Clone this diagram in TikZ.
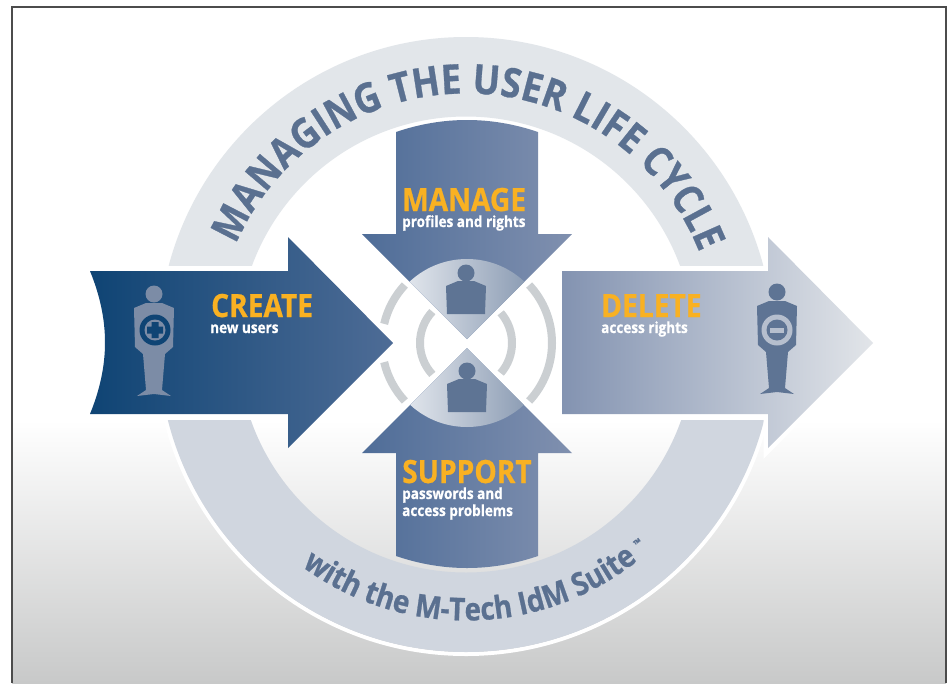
\documentclass[tikz,border=0pt]{standalone}
\usepackage{fontspec}
\setmainfont[FakeStretch=0.88,BoldFeatures={FakeBold=0.7}]{Open Sans}
\usetikzlibrary{decorations.text}
\definecolor{ringTop}{HTML}{E2E6EA}
\definecolor{ringBot}{HTML}{D0D6DF}
\definecolor{slate}{HTML}{5A7090}
\definecolor{navy}{HTML}{0F4474}
\definecolor{amber}{HTML}{F9B122}
\definecolor{arcGrey}{HTML}{CBCFD2}
\definecolor{figGrey}{HTML}{7C8CA6}
\definecolor{figDark}{HTML}{5E7494}
\definecolor{emblemLight}{HTML}{B6BFCE}
\definecolor{createTip}{HTML}{4E6C96}
\definecolor{vertLeft}{HTML}{4F6D98}
\definecolor{vertRight}{HTML}{8090AF}
\definecolor{deleteLeft}{HTML}{8393B1}
\definecolor{deleteTip}{HTML}{E2E5E9}
\definecolor{discLight}{HTML}{F3F5F8}
\definecolor{discMid}{HTML}{8593A6}
\definecolor{discDark}{HTML}{7A8DA8}
\definecolor{pageBottom}{HTML}{C8C9C9}
\tikzset{
  x=1pt, y=-1pt,
  headWord/.style={text=amber, font=\bfseries\fontsize{32}{32}\selectfont, anchor=base west, inner sep=0pt},
  subWord/.style={text=white, font=\bfseries\fontsize{15.4}{17}\selectfont, anchor=base west, inner sep=0pt, align=left},
  arcLine/.style={draw=arcGrey, line width=8pt},
  ringText/.style={decorate, decoration={text along path, text align={fit to path}, text={#1}}}
}
% figure with its head centre at #1
\newcommand{\fullFigure}[2]{%
  \fill[#2, shift={(#1)}] (0,0) circle (8.5)
    (-8,9) -- (8,9) -- (20,14) -- (19,53) -- (11,60) -- (8,96) -- (17,102) -- (0,100) -- (-17,102) -- (-8,96)
    -- (-11,60) -- (-19,53) -- (-20,14) -- cycle;
}
\newcommand{\bustFigure}[2]{%
  \fill[#2, shift={(#1)}] (0,0) circle (8.5)
    (-8,8) -- (8,8) -- (20,13) -- (19,41) -- (-19,41) -- (-20,13) -- cycle;
}
\begin{document}
\begin{tikzpicture}
  \useasboundingbox (0,0) rectangle (950,683);
  % page
  \fill[white] (0,0) rectangle (950,683);
  \shade[top color=white, bottom color=pageBottom] (12,420) rectangle (946,683);
  \draw[black!70, line width=1.5pt] (12,683) -- (12,7) -- (946,7) -- (946,683);
  % ring
  \coordinate (hub) at (466,344.5);
  \begin{scope}
    \clip (0,0) rectangle (950,265);
    \fill[ringTop, even odd rule] (hub) circle (307.5) (hub) circle (228);
  \end{scope}
  \begin{scope}
    \clip (0,420) rectangle (950,683);
    \draw[white, line width=4pt] (hub) circle (309.5);
    \fill[ringBot, even odd rule] (hub) circle (307.5) (hub) circle (228);
  \end{scope}
  \path[ringText={|\bfseries\fontsize{41}{41}\selectfont\color{slate}|MANAGING THE USER LIFE CYCLE}]
    (hub) ++(-156.5:251) arc[start angle=-156.5, end angle=-21.5, radius=251];
  \path[ringText={|\bfseries\fontsize{31.5}{31.5}\selectfont\color{slate}|with the M-Tech IdM Suite}]
    (hub) ++(126.5:276) arc[start angle=126.5, end angle=52, radius=276];
  \node[text=slate, font=\bfseries\fontsize{11}{11}\selectfont, rotate=37, inner sep=0pt] (trademark) at (638,543) {™};
  % side arrows
  \shade[left color=navy, right color=createTip]
    (90,271) -- (288,271) -- (288,237) -- (393,343) -- (288,448) -- (288,414) -- (90,414)
    .. controls (110,365) and (110,320) .. (90,271) -- cycle;
  \draw[white, line width=9pt, miter limit=10]
    (562,271) -- (768,271) -- (768,237) -- (873,343) -- (768,448) -- (768,414) -- (562,414) -- cycle;
  \shade[left color=deleteLeft, right color=deleteTip]
    (562,271) -- (768,271) -- (768,237) -- (873,343) -- (768,448) -- (768,414) -- (562,414) -- cycle;
  % centre arcs
  \coordinate (cross) at (467,343);
  \draw[arcLine] (cross) ++(-43:85) arc[start angle=-43, end angle=43, radius=85];
  \draw[arcLine] (cross) ++(-137:85) arc[start angle=-137, end angle=-167, radius=85];
  \draw[arcLine] (cross) ++(137:85) arc[start angle=137, end angle=167, radius=85];
  \draw[arcLine] (466,343) ++(-41:46) arc[start angle=-41, end angle=41, radius=46];
  \draw[arcLine] (466,343) ++(137:46) arc[start angle=137, end angle=223, radius=46];
  % top and bottom arrows
  \shade[left color=vertLeft, right color=vertRight]
    (396,132) .. controls (443,116) and (491,116) .. (538,132) -- (538,234) -- (572,234)
    -- (467,339) -- (362,234) -- (396,234) -- cycle;
  \shade[left color=vertLeft, right color=vertRight]
    (396,556) .. controls (443,572) and (491,572) .. (538,556) -- (538,453) -- (572,453)
    -- (467,348) -- (362,453) -- (396,453) -- cycle;
  \begin{scope}
    \clip (362,234) -- (572,234) -- (467,339) -- cycle;
    \shade[left color=discLight, middle color=discMid, right color=discDark] (cross) circle (84);
  \end{scope}
  \begin{scope}
    \clip (362,453) -- (572,453) -- (467,348) -- cycle;
    \shade[left color=discLight, middle color=discMid, right color=discDark] (cross) circle (84);
  \end{scope}
  \bustFigure{466,273}{figDark}
  \bustFigure{467,371}{figDark}
  % figures
  \fullFigure{154,294}{figGrey}
  \fill[navy] (155,330) circle (15.5);
  \fill[figGrey] (155,330) circle (10.5);
  \fill[navy] (151.5,322) rectangle (158.5,338) (147,326.5) rectangle (163,333.5);
  \fullFigure{777,292}{figDark}
  \fill[emblemLight] (777,330) circle (15.5);
  \fill[figDark] (777,330) circle (10.5);
  \fill[emblemLight] (770,327.5) rectangle (784,332.5);
  % labels
  \node[headWord] (createHead) at (211,317) {CREATE};
  \node[subWord] (createSub) at (210,333) {new users};
  \node[headWord] (manageHead) at (402,211) {MANAGE};
  \node[subWord] (manageSub) at (402,227) {profiles and rights};
  \node[headWord] (deleteHead) at (601,317) {DELETE};
  \node[subWord] (deleteSub) at (601,333) {access rights};
  \node[headWord] (supportHead) at (402,483) {SUPPORT};
  \node[subWord] (supportSub) at (402,499) {passwords and};
  \node[subWord] (supportSubB) at (402,516) {access problems};
\end{tikzpicture}
\end{document}
